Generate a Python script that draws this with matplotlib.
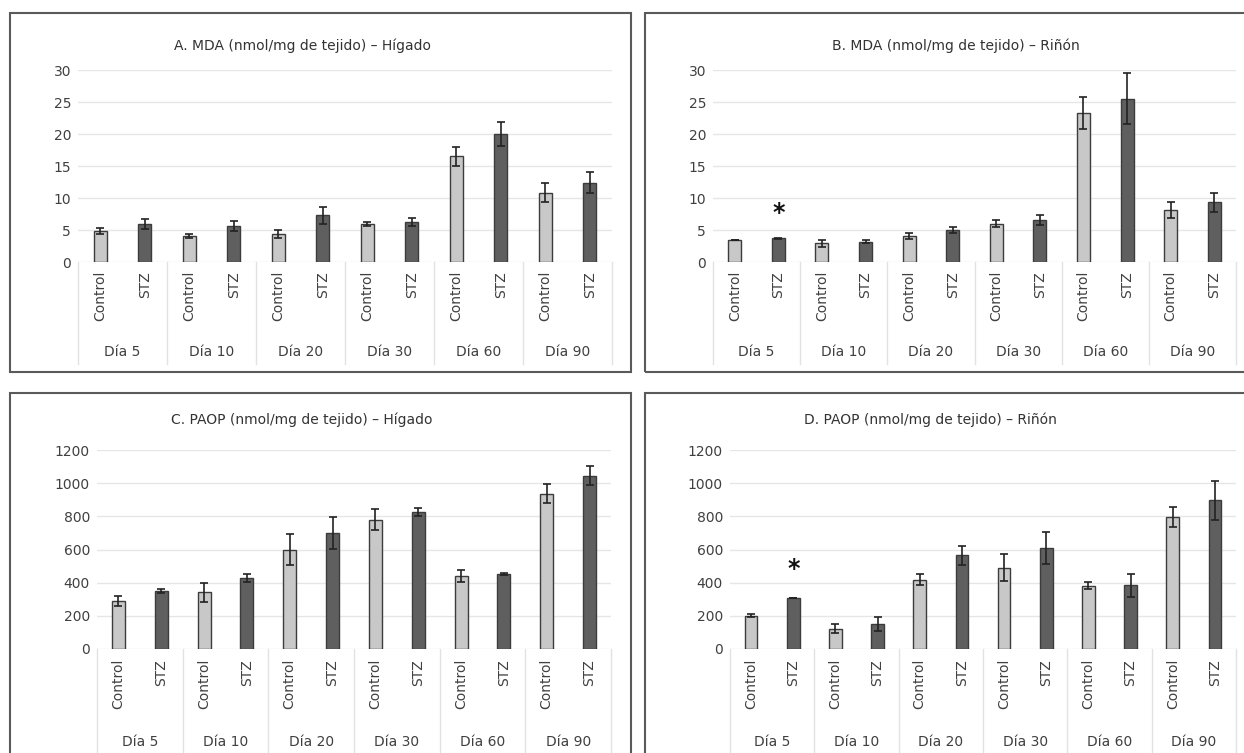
import numpy as np
import matplotlib
matplotlib.use("Agg")
import matplotlib.pyplot as plt
from matplotlib import transforms
from matplotlib.patches import Rectangle
from matplotlib.lines import Line2D

# ---- data ----
days = ["Día 5", "Día 10", "Día 20", "Día 30", "Día 60", "Día 90"]
groups = ["Control", "STZ"]

mda_higado_ctrl = [4.8, 4.1, 4.4, 5.9, 16.5, 10.8]
mda_higado_ctrl_err = [0.5, 0.3, 0.6, 0.3, 1.5, 1.5]
mda_higado_stz = [5.9, 5.6, 7.3, 6.2, 20.0, 12.4]
mda_higado_stz_err = [0.8, 0.8, 1.3, 0.6, 1.9, 1.6]

mda_rinon_ctrl = [3.4, 2.9, 4.1, 6.0, 23.3, 8.1]
mda_rinon_ctrl_err = [0.0, 0.6, 0.5, 0.5, 2.5, 1.2]
mda_rinon_stz = [3.7, 3.2, 5.0, 6.6, 25.5, 9.3]
mda_rinon_stz_err = [0.1, 0.3, 0.4, 0.8, 4.0, 1.5]

paop_higado_ctrl = [288, 343, 599, 780, 440, 937]
paop_higado_ctrl_err = [30, 58, 92, 65, 34, 58]
paop_higado_stz = [349, 427, 700, 825, 454, 1046]
paop_higado_stz_err = [10, 25, 97, 24, 5, 58]

paop_rinon_ctrl = [200, 123, 419, 490, 381, 796]
paop_rinon_ctrl_err = [10, 28, 35, 80, 22, 60]
paop_rinon_stz = [308, 151, 566, 609, 383, 897]
paop_rinon_stz_err = [2, 40, 58, 97, 70, 117]

W, H = 1244, 753
fig = plt.figure(figsize=(W / 100, H / 100), dpi=100)
fig.patch.set_facecolor("white")

ctrl_color = "#c8c8c8"
stz_color = "#5f5f5f"
edge_color = "#3c3c3c"
text_color = "#404040"
sep_color = "#e2e2e2"
fs = 10


def fx(px):
    return px / W


def fy(py):
    return 1 - py / H


def panel(box, plot, title, title_xy, ctrl, ctrl_err, stz, stz_err,
          ymax, ystep, label_top, group_y, sep_bottom, star=None):
    # panel frame
    x0, y0, x1, y1 = box
    fig.patches.append(Rectangle((fx(x0), fy(y1)), fx(x1 - x0), (y1 - y0) / H,
                                 transform=fig.transFigure, fill=False,
                                 edgecolor="#5a5a5a", linewidth=1.5, zorder=0))
    px0, py_top, px1, py_zero = plot
    ax = fig.add_axes([fx(px0), fy(py_zero), fx(px1 - px0), (py_zero - py_top) / H])

    vals, errs, cols = [], [], []
    for c, ce, s, se in zip(ctrl, ctrl_err, stz, stz_err):
        vals += [c, s]
        errs += [ce, se]
        cols += [ctrl_color, stz_color]
    x = np.arange(len(vals))
    ax.bar(x, vals, width=0.3, color=cols, edgecolor=edge_color,
           linewidth=1.0, zorder=3)
    ax.errorbar(x, vals, yerr=errs, fmt="none", ecolor="#222222",
                elinewidth=1.2, capsize=3, capthick=1.2, zorder=4)

    ax.set_xlim(-0.5, len(vals) - 0.5)
    ax.set_ylim(0, ymax)
    ax.set_yticks(np.arange(0, ymax + ystep / 2, ystep))
    ax.grid(axis="y", color="#e6e6e6", linewidth=1.0, zorder=0)
    ax.set_axisbelow(True)
    for sp in ax.spines.values():
        sp.set_visible(False)
    ax.tick_params(axis="y", length=0, pad=5, labelsize=fs, labelcolor=text_color)
    ax.tick_params(axis="x", length=0, labelbottom=False)
    ax.set_facecolor("none")

    # multi-level category axis
    tr = transforms.blended_transform_factory(ax.transData, fig.transFigure)
    for i, xi in enumerate(x):
        ax.text(xi, fy(label_top), groups[i % 2], rotation=90, ha="center",
                va="top", fontsize=fs, color=text_color, transform=tr)
    for j, d in enumerate(days):
        ax.text(2 * j + 0.5, fy(group_y), d, ha="center", va="center",
                fontsize=fs, color=text_color, transform=tr)
    for b in np.arange(-0.5, len(vals), 2):
        ax.add_line(Line2D([b, b], [fy(py_zero), fy(sep_bottom)], transform=tr,
                           color=sep_color, linewidth=1.0, clip_on=False))

    fig.text(fx(title_xy[0]), fy(title_xy[1]), title, ha="center", va="center",
             fontsize=fs, color="#333333")
    if star is not None:
        ax.text(star[0], star[1], "*", ha="center", va="center",
                fontsize=17, fontweight="bold", color="#111111")
    return ax


panel((10, 13, 631, 372), (78, 70, 612, 262),
      "A. MDA (nmol/mg de tejido) – Hígado", (302, 46),
      mda_higado_ctrl, mda_higado_ctrl_err, mda_higado_stz, mda_higado_stz_err,
      30, 5, 271, 352, 364)

panel((645, 13, 1252, 372), (713, 70, 1236, 262),
      "B. MDA (nmol/mg de tejido) – Riñón", (956, 46),
      mda_rinon_ctrl, mda_rinon_ctrl_err, mda_rinon_stz, mda_rinon_stz_err,
      30, 5, 271, 352, 364, star=(1, 7.6))

panel((10, 393, 631, 760), (97, 450, 611, 649),
      "C. PAOP (nmol/mg de tejido) – Hígado", (302, 420),
      paop_higado_ctrl, paop_higado_ctrl_err, paop_higado_stz, paop_higado_stz_err,
      1200, 200, 659, 742, 753)

panel((645, 393, 1252, 760), (730, 450, 1236, 649),
      "D. PAOP (nmol/mg de tejido) – Riñón", (930, 420),
      paop_rinon_ctrl, paop_rinon_ctrl_err, paop_rinon_stz, paop_rinon_stz_err,
      1200, 200, 659, 742, 753, star=(1, 480))

fig.savefig("out.png", dpi=100, facecolor="white")
